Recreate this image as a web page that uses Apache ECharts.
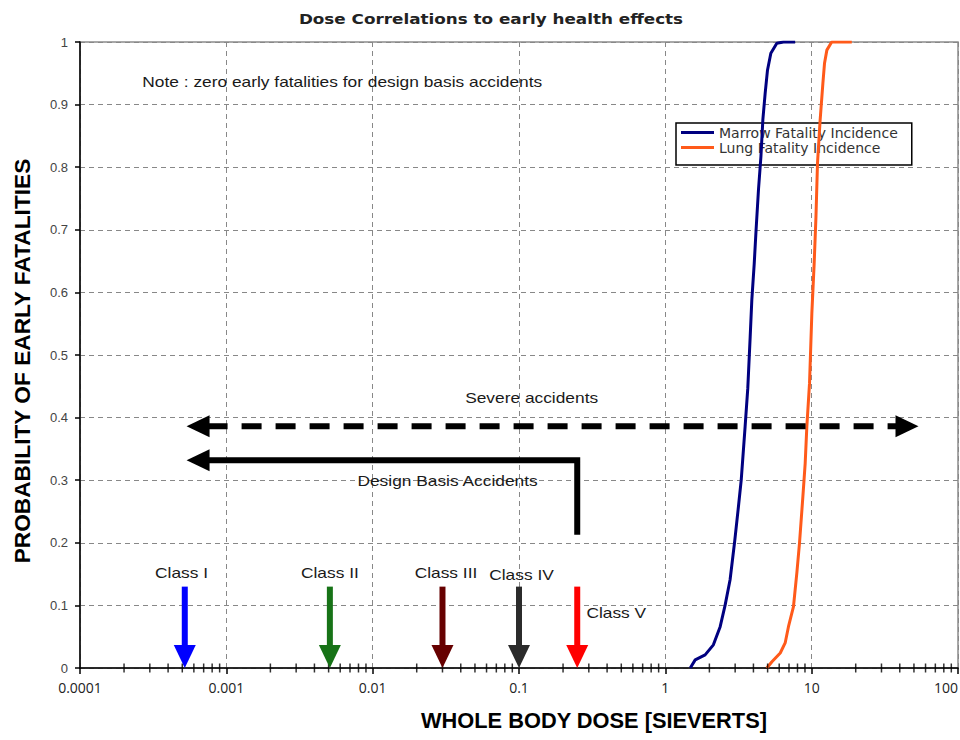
<!DOCTYPE html>
<html>
<head>
<meta charset="utf-8">
<script src="https://cdn.jsdelivr.net/npm/echarts@6/dist/echarts.min.js"></script>
<style>html,body{margin:0;padding:0;background:#fff}#c{width:960px;height:740px}</style>
</head>
<body>
<div id="c"></div>
<script>
// ---- data ----
var xTickLabels = ['0.0001', '0.001', '0.01', '0.1', '1', '10', '100'];
var marrowDose = [1.48, 1.60, 1.87, 2.13, 2.37, 2.56, 2.77, 2.97, 3.16, 3.30, 3.51, 3.66, 3.80, 3.90, 4.05, 4.17, 4.33, 4.50, 4.64, 4.81, 4.99, 5.26, 5.78, 6.42, 7.71];
var marrowProb = [0, 0.013, 0.021, 0.037, 0.066, 0.1, 0.141, 0.2, 0.258, 0.3, 0.386, 0.447, 0.529, 0.588, 0.646, 0.70, 0.764, 0.817, 0.876, 0.918, 0.955, 0.982, 0.998, 1.0, 1.0];
var lungDose = [4.94, 5.35, 6.10, 6.59, 6.94, 7.51, 7.92, 8.26, 8.71, 9.03, 9.27, 9.67, 10.03, 10.4, 10.7, 10.96, 11.43, 11.93, 12.24, 12.7, 13.7, 18.8];
var lungProb = [0, 0.01, 0.024, 0.04, 0.066, 0.098, 0.152, 0.2, 0.274, 0.327, 0.386, 0.455, 0.567, 0.646, 0.721, 0.806, 0.876, 0.934, 0.966, 0.987, 1.0, 1.0];
var seriesNames = ['Marrow Fatality Incidence', 'Lung Fatality Incidence'];

var classNames = ['Class I', 'Class II', 'Class III', 'Class IV', 'Class V'];
var classDose = [0.00052, 0.0051, 0.030, 0.1, 0.25];
var classArrowTop = 0.13;
var classLabelDose = [0.000494, 0.0051, 0.0317, 0.104, 0.462];
var classLabelProb = [0.151, 0.151, 0.151, 0.149, 0.088];

var severeArrow = [0.000535, 0.386, 53.7, 0.386];
var designArrow = [0.25, 0.213, 0.25, 0.332, 0.000535, 0.332];

var noteTexts = ['Note : zero early fatalities for design basis accidents', 'Severe accidents', 'Design Basis Accidents'];
var noteDose = [0.0062, 0.122, 0.0325];
var noteProb = [0.936, 0.431, 0.299];

var minorTickDose = [];
for (var n = -4; n < 2; n++) { for (var k = 2; k <= 9; k++) { minorTickDose.push(+(k * Math.pow(10, n)).toPrecision(3)); } }

// ---- styles ----
var classColors = ['#0000FF', '#177317', '#660000', '#2b2b2b', '#FF0000'];
var marrowColor = '#000080';
var lungColor = '#FF5A1A';
var FONT = 'Liberation Sans';
var STRETCH = 1.24;

function zip(a, b) { return a.map(function (v, i) { return [v, b[i]]; }); }

function arrowGroup(pts, color, width, dash, headStart, headEnd) {
  var L = 23, W = 22;
  var children = [];
  var linePts = pts.map(function (p) { return [p[0], p[1]]; });
  function head(tip, prev) {
    var dx = tip[0] - prev[0], dy = tip[1] - prev[1];
    var len = Math.sqrt(dx * dx + dy * dy) || 1;
    var ux = dx / len, uy = dy / len;
    var bx = tip[0] - ux * L, by = tip[1] - uy * L;
    var nx = -uy, ny = ux;
    children.push({
      type: 'polygon',
      shape: { points: [[tip[0], tip[1]], [bx + nx * W / 2, by + ny * W / 2], [bx - nx * W / 2, by - ny * W / 2]] },
      style: { fill: color, stroke: null }
    });
    return [bx + ux * 2, by + uy * 2];
  }
  var m = pts.length;
  if (headEnd) { linePts[m - 1] = head(pts[m - 1], pts[m - 2]); }
  if (headStart) { linePts[0] = head(pts[0], pts[1]); }
  children.unshift({
    type: 'polyline',
    shape: { points: linePts },
    style: { stroke: color, lineWidth: width, lineDash: dash || null, fill: null, lineJoin: 'miter', lineCap: 'butt' }
  });
  return { type: 'group', children: children };
}

function stretchedText(p, text) {
  return {
    type: 'text', x: p[0], y: p[1], scaleX: STRETCH,
    style: { text: text, align: 'center', verticalAlign: 'middle', fontFamily: FONT, fontSize: 14, fill: '#1a1a1a' }
  };
}

var chart = echarts.init(document.getElementById('c'), null, { renderer: 'svg' });

var option = {
  animation: false,
  backgroundColor: '#fff',
  graphic: [{
    type: 'text', x: 491, y: 19, scaleX: 1.2,
    style: { text: 'Dose Correlations to early health effects', align: 'center', verticalAlign: 'middle', fontFamily: 'DejaVu Sans', fontSize: 14, fontWeight: 'bold', fill: '#222' }
  }],
  legend: {
    orient: 'vertical', left: 676, top: 123,
    borderColor: '#000', borderWidth: 1.5, borderRadius: 0,
    padding: [2, 14, 10, 5], itemGap: 0, itemWidth: 33, itemHeight: 3, icon: 'rect',
    textStyle: { fontFamily: 'DejaVu Sans', fontSize: 14, lineHeight: 15, color: '#333' },
    backgroundColor: '#fff',
    data: seriesNames
  },
  grid: { left: 80, right: 2, top: 42, bottom: 72, outerBoundsMode: 'none', show: true, borderColor: '#8c8c8c', borderWidth: 1.5, backgroundColor: 'transparent' },
  xAxis: {
    type: 'log', logBase: 10, min: 0.0001, max: 100,
    name: 'WHOLE BODY DOSE [SIEVERTS]', nameLocation: 'middle', nameGap: 41,
    nameTextStyle: { fontFamily: FONT, fontWeight: 'bold', fontSize: 21.8, color: '#000', padding: [0, 0, 0, 150] },
    axisLine: { show: true, lineStyle: { color: '#000', width: 1.5 } },
    axisTick: { show: true, length: 6, lineStyle: { color: '#000', width: 1.5 } },
    axisLabel: {
      margin: 12, fontFamily: 'Open Sans', fontSize: 14, color: '#222', alignMaxLabel: 'right',
      formatter: function (v) { var i = Math.round(Math.log10(v)) + 4; return xTickLabels[i] || ''; }
    },
    splitLine: { show: true, lineStyle: { color: '#888', type: [5, 4], width: 1 } },
    minorTick: { show: false }, minorSplitLine: { show: false }
  },
  yAxis: {
    type: 'value', min: 0, max: 1, interval: 0.1,
    name: 'PROBABILITY OF EARLY FATALITIES', nameLocation: 'middle', nameGap: 47, nameRotate: 90,
    nameTextStyle: { fontFamily: FONT, fontWeight: 'bold', fontSize: 22.7, color: '#000', padding: [0, 12, 0, 0] },
    axisLine: { show: true, lineStyle: { color: '#000', width: 1.5 } },
    axisTick: { show: true, length: 5, lineStyle: { color: '#000', width: 1.5 } },
    axisLabel: { margin: 12, fontFamily: FONT, fontSize: 13, color: '#444' },
    splitLine: { show: true, lineStyle: { color: '#888', type: [5, 4], width: 1 } }
  },
  series: [
    {
      name: seriesNames[0], type: 'line', data: zip(marrowDose, marrowProb), symbol: 'none',
      lineStyle: { color: marrowColor, width: 3 }, itemStyle: { color: marrowColor }, z: 5
    },
    {
      name: seriesNames[1], type: 'line', data: zip(lungDose, lungProb), symbol: 'none',
      lineStyle: { color: lungColor, width: 3 }, itemStyle: { color: lungColor }, z: 5
    },
    {
      name: 'minorTicks', type: 'scatter', data: minorTickDose.map(function (d) { return [d, 0]; }),
      symbol: 'rect', symbolSize: [1.5, 9], itemStyle: { color: '#000' }, silent: true, clip: false, z: 6
    },
    {
      name: 'classArrows', type: 'custom', clip: false, z: 7,
      encode: { x: [0, 2], y: [1, 3] },
      data: classDose.map(function (d) { return [d, classArrowTop, d, 0]; }),
      renderItem: function (params, api) {
        var p1 = api.coord([api.value(0), api.value(1)]);
        var p2 = api.coord([api.value(2), api.value(3)]);
        return arrowGroup([p1, p2], classColors[params.dataIndex], 6, null, false, true);
      }
    },
    {
      name: 'severe', type: 'custom', clip: false, z: 7,
      encode: { x: [0, 2], y: [1, 3] },
      data: [severeArrow],
      renderItem: function (params, api) {
        var p1 = api.coord([api.value(0), api.value(1)]);
        var p2 = api.coord([api.value(2), api.value(3)]);
        return arrowGroup([p1, p2], '#000', 6, [20, 14], true, true);
      }
    },
    {
      name: 'design', type: 'custom', clip: false, z: 7,
      encode: { x: [0, 2, 4], y: [1, 3, 5] },
      data: [designArrow],
      renderItem: function (params, api) {
        var pts = [
          api.coord([api.value(0), api.value(1)]),
          api.coord([api.value(2), api.value(3)]),
          api.coord([api.value(4), api.value(5)])
        ];
        return arrowGroup(pts, '#000', 6, null, false, true);
      }
    },
    {
      name: 'classLabels', type: 'custom', clip: false, z: 8,
      encode: { x: 0, y: 1 },
      data: zip(classLabelDose, classLabelProb),
      renderItem: function (params, api) {
        var p = api.coord([api.value(0), api.value(1)]);
        return stretchedText(p, classNames[params.dataIndex]);
      }
    },
    {
      name: 'notes', type: 'custom', clip: false, z: 8,
      encode: { x: 0, y: 1 },
      data: zip(noteDose, noteProb),
      renderItem: function (params, api) {
        var p = api.coord([api.value(0), api.value(1)]);
        return stretchedText(p, noteTexts[params.dataIndex]);
      }
    }
  ]
};
chart.setOption(option);
</script>
</body>
</html>
